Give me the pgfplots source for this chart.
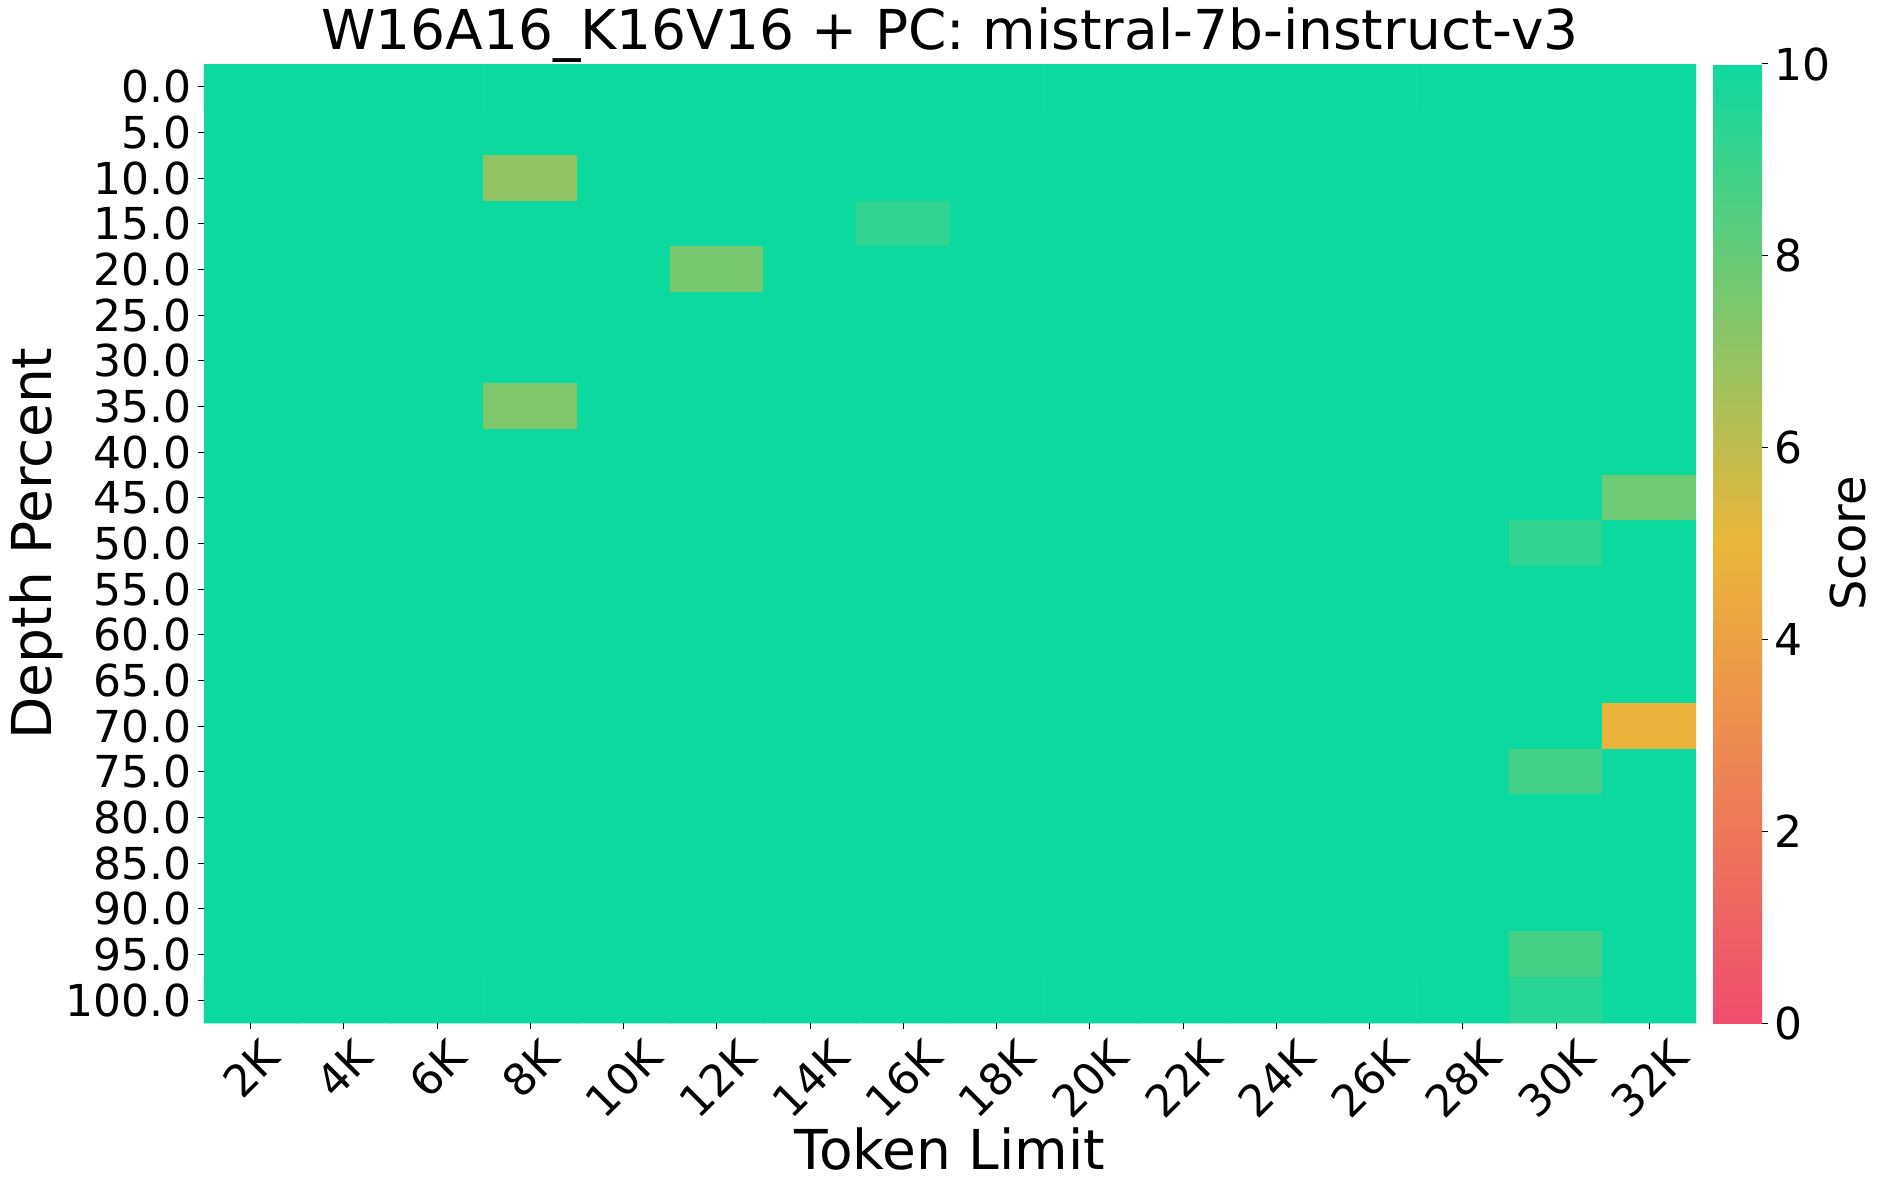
\documentclass[border=0pt]{standalone}
\usepackage{fontspec}
\setmainfont{DejaVu Sans}
\usepackage{graphicx}
\usepackage{pgfplots}
\pgfplotsset{compat=1.18}

\begin{document}
\begin{tikzpicture}
  \useasboundingbox (-102pt,-83.5pt) rectangle (841pt,511.5pt);
  \begin{axis}[
      at={(0,0)}, anchor=south west,
      scale only axis, width=746pt, height=479.5pt,
      xmin=-0.5, xmax=15.5, ymin=-0.5, ymax=20.5,
      y dir=reverse, enlargelimits=false,
      axis line style={draw=none},
      tick align=outside, major tick length=3pt,
      tick style={line width=0.5pt, black},
      xtick pos=bottom, ytick pos=left,
      xtick={0,...,15}, ytick={0,...,20},
      xticklabels={\rotatebox{45}{2K},\rotatebox{45}{4K},\rotatebox{45}{6K},\rotatebox{45}{8K},
        \rotatebox{45}{10K},\rotatebox{45}{12K},\rotatebox{45}{14K},\rotatebox{45}{16K},
        \rotatebox{45}{18K},\rotatebox{45}{20K},\rotatebox{45}{22K},\rotatebox{45}{24K},
        \rotatebox{45}{26K},\rotatebox{45}{28K},\rotatebox{45}{30K},\rotatebox{45}{32K}},
      yticklabels={0.0,5.0,10.0,15.0,20.0,25.0,30.0,35.0,40.0,45.0,50.0,55.0,60.0,65.0,70.0,75.0,80.0,85.0,90.0,95.0,100.0},
      ticklabel style={font=\fontsize{22}{24}\selectfont},
      xticklabel style={anchor=north, inner sep=2pt, yshift=-2pt},
      yticklabel style={anchor=east, inner sep=2pt, xshift=-1pt},
      xlabel={Token Limit}, ylabel={Depth Percent},
      label style={font=\fontsize{27.5}{30}\selectfont},
      xlabel style={yshift=2pt},
      ylabel style={yshift=-4pt},
      title={W16A16\_K16V16 + PC: mistral-7b-instruct-v3},
      title style={font=\fontsize{27.5}{30}\selectfont, yshift=-9pt},
      colormap={score}{rgb255(0)=(240,76,110) rgb255(5)=(235,182,58) rgb255(10)=(12,217,160)},
      point meta min=0, point meta max=10,
      colorbar,
      colorbar/width=24.5pt,
      colorbar style={
        at={(parent axis.north east)}, anchor=north west, xshift=0pt,
        scale only axis,
        axis line style={draw=none},
        ytick={0,2,4,6,8,10},
        yticklabels={0,2,4,6,8,10},
        tick align=outside, major tick length=3pt,
        tick style={line width=0.5pt, black},
        ytick pos=right,
        yticklabel style={font=\fontsize{22}{24}\selectfont, inner sep=2pt, xshift=1pt},
        ylabel={Score},
        ylabel style={font=\fontsize{24}{26}\selectfont, yshift=6pt},
      },
    ]
    \addplot[matrix plot, faceted color=mapped color, line width=0.3pt, mesh/cols=16, point meta=explicit]
      table[meta=c, row sep=\\] {
x y c\\
0 0 10\\ 1 0 10\\ 2 0 10\\ 3 0 10\\ 4 0 10\\ 5 0 10\\ 6 0 10\\ 7 0 10\\ 8 0 10\\ 9 0 10\\ 10 0 10\\ 11 0 10\\ 12 0 10\\ 13 0 10\\ 14 0 10\\ 15 0 10\\
0 1 10\\ 1 1 10\\ 2 1 10\\ 3 1 10\\ 4 1 10\\ 5 1 10\\ 6 1 10\\ 7 1 10\\ 8 1 10\\ 9 1 10\\ 10 1 10\\ 11 1 10\\ 12 1 10\\ 13 1 10\\ 14 1 10\\ 15 1 10\\
0 2 10\\ 1 2 10\\ 2 2 10\\ 3 2 7.0\\ 4 2 10\\ 5 2 10\\ 6 2 10\\ 7 2 10\\ 8 2 10\\ 9 2 10\\ 10 2 10\\ 11 2 10\\ 12 2 10\\ 13 2 10\\ 14 2 10\\ 15 2 10\\
0 3 10\\ 1 3 10\\ 2 3 10\\ 3 3 10\\ 4 3 10\\ 5 3 10\\ 6 3 10\\ 7 3 9.2\\ 8 3 10\\ 9 3 10\\ 10 3 10\\ 11 3 10\\ 12 3 10\\ 13 3 10\\ 14 3 10\\ 15 3 10\\
0 4 10\\ 1 4 10\\ 2 4 10\\ 3 4 10\\ 4 4 10\\ 5 4 7.6\\ 6 4 10\\ 7 4 10\\ 8 4 10\\ 9 4 10\\ 10 4 10\\ 11 4 10\\ 12 4 10\\ 13 4 10\\ 14 4 10\\ 15 4 10\\
0 5 10\\ 1 5 10\\ 2 5 10\\ 3 5 10\\ 4 5 10\\ 5 5 10\\ 6 5 10\\ 7 5 10\\ 8 5 10\\ 9 5 10\\ 10 5 10\\ 11 5 10\\ 12 5 10\\ 13 5 10\\ 14 5 10\\ 15 5 10\\
0 6 10\\ 1 6 10\\ 2 6 10\\ 3 6 10\\ 4 6 10\\ 5 6 10\\ 6 6 10\\ 7 6 10\\ 8 6 10\\ 9 6 10\\ 10 6 10\\ 11 6 10\\ 12 6 10\\ 13 6 10\\ 14 6 10\\ 15 6 10\\
0 7 10\\ 1 7 10\\ 2 7 10\\ 3 7 7.4\\ 4 7 10\\ 5 7 10\\ 6 7 10\\ 7 7 10\\ 8 7 10\\ 9 7 10\\ 10 7 10\\ 11 7 10\\ 12 7 10\\ 13 7 10\\ 14 7 10\\ 15 7 10\\
0 8 10\\ 1 8 10\\ 2 8 10\\ 3 8 10\\ 4 8 10\\ 5 8 10\\ 6 8 10\\ 7 8 10\\ 8 8 10\\ 9 8 10\\ 10 8 10\\ 11 8 10\\ 12 8 10\\ 13 8 10\\ 14 8 10\\ 15 8 10\\
0 9 10\\ 1 9 10\\ 2 9 10\\ 3 9 10\\ 4 9 10\\ 5 9 10\\ 6 9 10\\ 7 9 10\\ 8 9 10\\ 9 9 10\\ 10 9 10\\ 11 9 10\\ 12 9 10\\ 13 9 10\\ 14 9 10\\ 15 9 7.8\\
0 10 10\\ 1 10 10\\ 2 10 10\\ 3 10 10\\ 4 10 10\\ 5 10 10\\ 6 10 10\\ 7 10 10\\ 8 10 10\\ 9 10 10\\ 10 10 10\\ 11 10 10\\ 12 10 10\\ 13 10 10\\ 14 10 9.2\\ 15 10 10\\
0 11 10\\ 1 11 10\\ 2 11 10\\ 3 11 10\\ 4 11 10\\ 5 11 10\\ 6 11 10\\ 7 11 10\\ 8 11 10\\ 9 11 10\\ 10 11 10\\ 11 11 10\\ 12 11 10\\ 13 11 10\\ 14 11 10\\ 15 11 10\\
0 12 10\\ 1 12 10\\ 2 12 10\\ 3 12 10\\ 4 12 10\\ 5 12 10\\ 6 12 10\\ 7 12 10\\ 8 12 10\\ 9 12 10\\ 10 12 10\\ 11 12 10\\ 12 12 10\\ 13 12 10\\ 14 12 10\\ 15 12 10\\
0 13 10\\ 1 13 10\\ 2 13 10\\ 3 13 10\\ 4 13 10\\ 5 13 10\\ 6 13 10\\ 7 13 10\\ 8 13 10\\ 9 13 10\\ 10 13 10\\ 11 13 10\\ 12 13 10\\ 13 13 10\\ 14 13 10\\ 15 13 10\\
0 14 10\\ 1 14 10\\ 2 14 10\\ 3 14 10\\ 4 14 10\\ 5 14 10\\ 6 14 10\\ 7 14 10\\ 8 14 10\\ 9 14 10\\ 10 14 10\\ 11 14 10\\ 12 14 10\\ 13 14 10\\ 14 14 10\\ 15 14 4.8\\
0 15 10\\ 1 15 10\\ 2 15 10\\ 3 15 10\\ 4 15 10\\ 5 15 10\\ 6 15 10\\ 7 15 10\\ 8 15 10\\ 9 15 10\\ 10 15 10\\ 11 15 10\\ 12 15 10\\ 13 15 10\\ 14 15 8.8\\ 15 15 10\\
0 16 10\\ 1 16 10\\ 2 16 10\\ 3 16 10\\ 4 16 10\\ 5 16 10\\ 6 16 10\\ 7 16 10\\ 8 16 10\\ 9 16 10\\ 10 16 10\\ 11 16 10\\ 12 16 10\\ 13 16 10\\ 14 16 10\\ 15 16 10\\
0 17 10\\ 1 17 10\\ 2 17 10\\ 3 17 10\\ 4 17 10\\ 5 17 10\\ 6 17 10\\ 7 17 10\\ 8 17 10\\ 9 17 10\\ 10 17 10\\ 11 17 10\\ 12 17 10\\ 13 17 10\\ 14 17 10\\ 15 17 10\\
0 18 10\\ 1 18 10\\ 2 18 10\\ 3 18 10\\ 4 18 10\\ 5 18 10\\ 6 18 10\\ 7 18 10\\ 8 18 10\\ 9 18 10\\ 10 18 10\\ 11 18 10\\ 12 18 10\\ 13 18 10\\ 14 18 10\\ 15 18 10\\
0 19 10\\ 1 19 10\\ 2 19 10\\ 3 19 10\\ 4 19 10\\ 5 19 10\\ 6 19 10\\ 7 19 10\\ 8 19 10\\ 9 19 10\\ 10 19 10\\ 11 19 10\\ 12 19 10\\ 13 19 10\\ 14 19 8.7\\ 15 19 10\\
0 20 10\\ 1 20 10\\ 2 20 10\\ 3 20 10\\ 4 20 10\\ 5 20 10\\ 6 20 10\\ 7 20 10\\ 8 20 10\\ 9 20 10\\ 10 20 10\\ 11 20 10\\ 12 20 10\\ 13 20 10\\ 14 20 9.4\\ 15 20 10\\
      };
  \end{axis}
\end{tikzpicture}
\end{document}
